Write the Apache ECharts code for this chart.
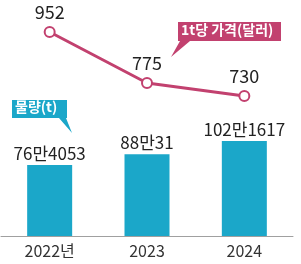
<!DOCTYPE html>
<html><head><meta charset="utf-8">
<script src="https://cdn.jsdelivr.net/npm/echarts@6/dist/echarts.min.js"></script>
<style>html,body{margin:0;padding:0;background:#fff}#c{width:301px;height:264px}</style>
</head><body><div id="c"></div>
<script>
var categories = ['2022년', '2023', '2024'];
var volume = [764053, 880031, 1021617];
var volumeLabels = ['76만4053', '88만31', '102만1617'];
var price = [952, 775, 730];

var TEAL = '#1ba7c9', PINK = '#c2416f';
var FONT = '"Noto Sans CJK KR", "Noto Sans", sans-serif';
var chart = echarts.init(document.getElementById('c'), null, {renderer: 'canvas'});
chart.setOption({
  animation: false,
  grid: [
    {left: 1, right: 8, top: 10, bottom: 28},
    {left: 1, right: 8, top: 32, height: 64}
  ],
  xAxis: [
    {type: 'category', data: categories, gridIndex: 0,
     axisLine: {lineStyle: {color: '#a0a0a0', width: 1}}, axisTick: {show: false},
     axisLabel: {color: '#333', fontSize: 16, fontFamily: FONT, margin: 7}},
    {type: 'category', data: categories, gridIndex: 1, show: false}
  ],
  yAxis: [
    {type: 'value', gridIndex: 0, min: 0, max: 2430000, show: false, splitLine: {show: false}},
    {type: 'value', gridIndex: 1, min: 730, max: 952, show: false, splitLine: {show: false}}
  ],
  series: [
    {type: 'bar', xAxisIndex: 0, yAxisIndex: 0, data: volume, barWidth: 45,
     itemStyle: {color: TEAL},
     label: {show: true, position: 'top', distance: 3, color: '#222', fontSize: 17, fontFamily: FONT,
       formatter: function (p) { return volumeLabels[p.dataIndex]; }}},
    {type: 'line', xAxisIndex: 1, yAxisIndex: 1, data: price,
     lineStyle: {color: PINK, width: 3}, symbol: 'circle', symbolSize: 10,
     itemStyle: {color: '#fff', borderColor: PINK, borderWidth: 2},
     label: {show: true, position: 'top', distance: 5, color: '#222', fontSize: 18, fontFamily: FONT}}
  ],
  graphic: [
    {type: 'polygon', shape: {points: [[178,22],[281,22],[281,41],[190,41],[171,57],[180,41],[178,41]]}, style: {fill: PINK}},
    {type: 'text', left: 181, top: 23, style: {text: '1t당 가격(달러)', fill: '#fff', font: 'bold 14px ' + FONT}},
    {type: 'polygon', shape: {points: [[12,100],[67,100],[67,118],[66,118],[72,133],[59,118],[12,118]]}, style: {fill: TEAL}},
    {type: 'text', left: 15, top: 100, style: {text: '물량(t)', fill: '#fff', font: 'bold 14px ' + FONT}}
  ]
});
</script></body></html>
